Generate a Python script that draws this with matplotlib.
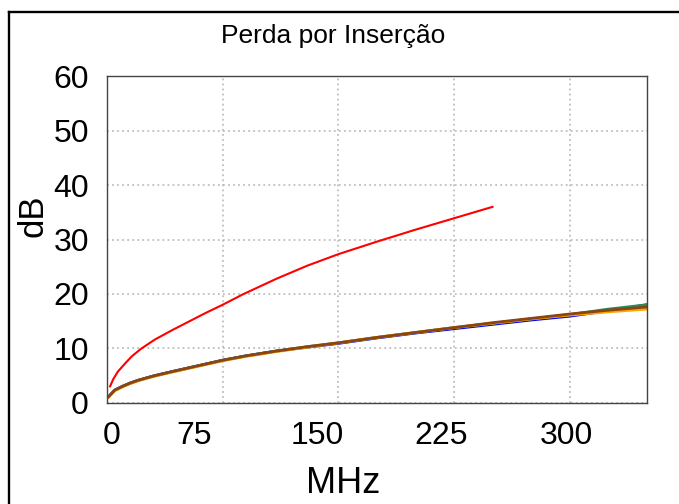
import numpy as np
import matplotlib
matplotlib.use('Agg')
import matplotlib.pyplot as plt
from matplotlib.lines import Line2D

plt.rcParams['font.family'] = ['Liberation Sans', 'DejaVu Sans']

# frequency grid (MHz) for the four near-identical cables
freq = [1, 5, 10, 15, 20, 30, 42, 53, 64, 75, 90, 110, 130, 150, 175, 200, 225, 250, 275, 300, 325, 350]
loss_blue = [1.1, 2.3, 3.0, 3.6, 4.1, 4.9, 5.7, 6.4, 7.1, 7.8, 8.6, 9.5, 10.2, 10.9, 11.9, 12.8, 13.6, 14.4, 15.2, 15.9, 16.9, 18.0]
loss_green = [1.1, 2.3, 3.0, 3.6, 4.1, 4.9, 5.7, 6.4, 7.1, 7.8, 8.6, 9.5, 10.3, 11.0, 12.0, 12.9, 13.8, 14.6, 15.4, 16.2, 17.2, 18.0]
loss_orange = [1.0, 2.2, 2.9, 3.5, 4.0, 4.8, 5.6, 6.3, 7.0, 7.7, 8.5, 9.4, 10.2, 11.0, 12.0, 12.9, 13.8, 14.6, 15.4, 16.1, 16.7, 17.2]
loss_brown = [1.1, 2.3, 3.0, 3.6, 4.1, 4.9, 5.7, 6.4, 7.1, 7.8, 8.6, 9.5, 10.3, 11.0, 12.0, 12.9, 13.8, 14.7, 15.5, 16.3, 17.0, 17.6]

# red cable, shorter range
freq_red = [2, 4, 7, 12, 16, 22, 31, 42, 53, 64, 75, 88, 110, 130, 150, 175, 200, 225, 250]
loss_red = [3.0, 4.3, 5.7, 7.3, 8.5, 9.9, 11.6, 13.3, 14.9, 16.5, 18.0, 19.9, 22.8, 25.2, 27.3, 29.6, 31.8, 33.9, 36.0]

x_labels = ['0', '75', '150', '225', '300']
x_grid = [75, 150, 225, 300]
y_ticks = [0, 10, 20, 30, 40, 50, 60]

W, H = 679, 504
fig = plt.figure(figsize=(W / 100, H / 100), dpi=100)
ax = fig.add_axes([107 / W, 1 - 402.7 / H, (646.7 - 107) / W, (402.7 - 76.3) / H])

ax.plot(freq, loss_blue, color='#0000ff', lw=2.0)
ax.plot(freq, loss_green, color='#2e8b57', lw=2.0)
ax.plot(freq, loss_orange, color='#ffa500', lw=2.0)
ax.plot(freq, loss_brown, color='#8b4513', lw=2.0)
ax.plot(freq_red, loss_red, color='#ff0000', lw=1.5)

ax.set_xlim(0, 350)
ax.set_ylim(0, 60)

# labels in the original sit a bit off the grid lines
ax.set_xticks([2.8, 56.2, 136.5, 217.0, 297.7])
ax.set_xticklabels(x_labels)
ax.set_xticks(x_grid, minor=True)
ax.set_yticks(y_ticks)

ax.tick_params(axis='both', which='both', length=0, labelsize=23)
ax.tick_params(axis='x', pad=13.5)
ax.tick_params(axis='y', pad=13)

grid_style = dict(color='#b4b4b4', lw=1.1, linestyle=(0, (1.2, 2.1)))
ax.grid(False)
ax.xaxis.grid(True, which='minor', **grid_style)
ax.yaxis.grid(True, which='major', **grid_style)
ax.set_axisbelow(True)

for sp in ax.spines.values():
    sp.set_color('#444444')
    sp.set_linewidth(1.0)

fig.text(333 / W, 1 - 43.3 / H, 'Perda por Inserção', ha='center', va='baseline', fontsize=19)
fig.text(343 / W, 1 - 493.3 / H, 'MHz', ha='center', va='baseline', fontsize=26)
fig.text(33 / W, 1 - 216 / H, 'dB', ha='center', va='center', rotation=90, fontsize=25)

# outer frame, cut off at right and bottom
bx, by = 9 / W, 1 - 11.7 / H
fig.add_artist(Line2D([bx, bx], [0, by], transform=fig.transFigure, color='black', lw=1.7))
fig.add_artist(Line2D([bx, 1], [by, by], transform=fig.transFigure, color='black', lw=1.7))

fig.savefig('out.png', dpi=100)
